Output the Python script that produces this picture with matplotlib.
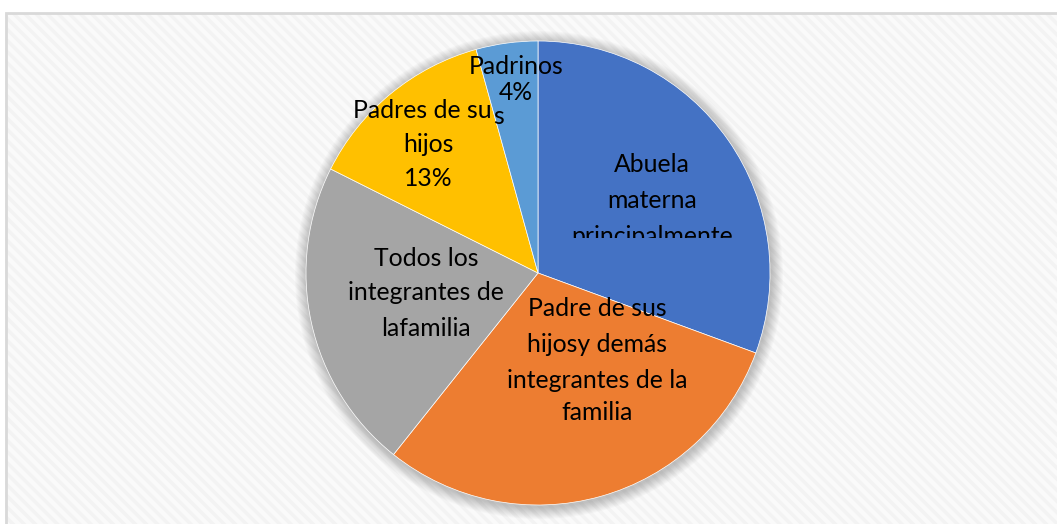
import matplotlib
matplotlib.use("Agg")
import matplotlib.pyplot as plt
from matplotlib.patches import Rectangle, Circle

plt.rcParams['font.family'] = ['Lato', 'DejaVu Sans']
plt.rcParams['hatch.linewidth'] = 2.5

categories = ["Abuela materna principalmente",
              "Padre de sus hijosy demás integrantes de la familia",
              "Todos los integrantes de lafamilia",
              "Padres de sus hijos",
              "Padrinos"]
values = [30.6, 30.1, 21.7, 13.3, 4.3]
colors = ["#4472C4", "#ED7D31", "#A5A5A5", "#FFC000", "#5B9BD5"]

W, H = 1057, 524
fig = plt.figure(figsize=(W / 100, H / 100), dpi=100)
fig.patch.set_facecolor("white")

# background frame with subtle pattern
bg = Rectangle((5 / W, -0.1), 1.2, 1 - 13 / H + 0.1, transform=fig.transFigure,
               facecolor="#fafafa", edgecolor="#f3f3f3", hatch="\\\\\\", linewidth=0, zorder=-5)
fig.patches.append(bg)
border = Rectangle((5.5 / W, -0.1), 1.2, 1 - 13.5 / H + 0.1, transform=fig.transFigure,
                   fill=False, edgecolor="#d9d9d9", linewidth=2, zorder=-4)
fig.patches.append(border)

ax = fig.add_axes([0, 0, 1, 1])
ax.set_zorder(2)
ax.patch.set_alpha(0)

cx, cy, R = 538, H - 273, 232

wedges, _ = ax.pie(values, colors=colors, startangle=90, counterclock=False,
                   center=(cx, cy), radius=R, frame=False,
                   wedgeprops=dict(edgecolor="white", linewidth=0.5))
for w in wedges:
    w.set_zorder(2)

# soft shadow
for i in range(12):
    ax.add_patch(Circle((cx + 1, cy - 2), R + 12 - i, facecolor="black", alpha=0.02,
                        linewidth=0, zorder=1))

ax.set_xlim(0, W)
ax.set_ylim(0, H)
ax.set_aspect("equal")
ax.axis("off")

fs = 17.8
txt = dict(ha="center", va="center", fontsize=fs, color="black", zorder=5)

# Abuela materna principalmente (third line clipped)
clip = Rectangle((540, H - 238), 230, 120, transform=ax.transData, visible=False)
ax.add_patch(clip)
for s, y in zip(["Abuela", "materna", "principalmente"], [165, 201, 237]):
    t = ax.text(652, H - y, s, **txt)
    t.set_clip_path(clip)
    t.set_clip_on(True)

for s, y in zip(["Padre de sus", "hijosy demás", "integrantes de la", "familia"],
                [309, 345, 380, 413]):
    ax.text(597, H - y, s, **txt)

for s, y in zip(["Todos los", "integrantes de", "lafamilia"], [258, 293, 328]):
    ax.text(426, H - y, s, **txt)

ax.text(422, H - 110, "Padres de su", **txt)
ax.text(499, H - 117, "s", **txt)
ax.text(428, H - 145, "hijos", **txt)
ax.text(428, H - 178, f"{round(values[3])}%", **txt)

ax.text(516, H - 67, "Padrinos", **txt)
ax.text(516, H - 93, f"{round(values[4])}%", **txt)

fig.savefig("out.png", dpi=100)
